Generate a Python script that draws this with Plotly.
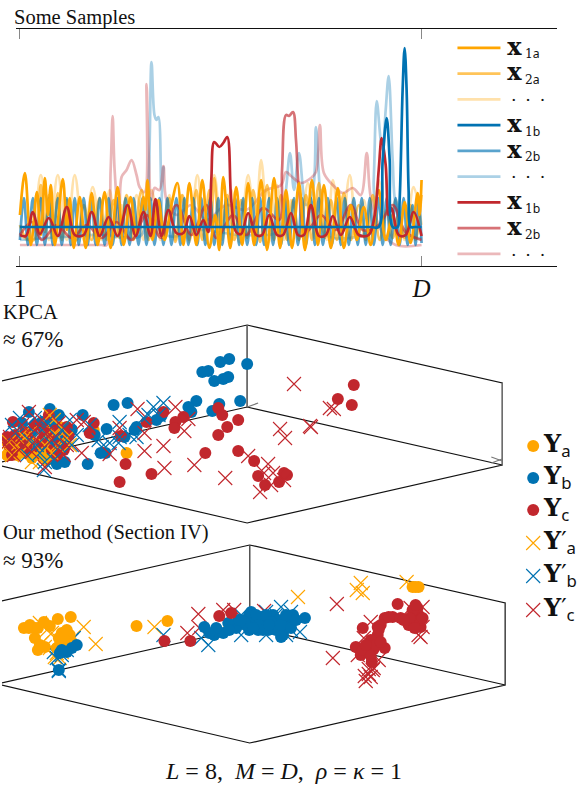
import plotly.graph_objects as go

ORANGE = "#FFA500"
BLUE = "#0072B2"
RED = "#C1272D"
SERIF = "Liberation Serif"

# ---- top panel: sample signals
a1_x = [18,23,29,35,39,43,46,49,53,61,65,68,72,78,84,90,96,103,109,116,122,129,135,142,144,146,151,157,163,170,176,182,188,195,201,208,214,218,222,229,235,241,247,253,260,266,273,279,285,291,298,304,311,317,323,330,337,343,350,356,363,370,378,385,392,398,404,410,417,419,421]
a1_y = [215,173,245,192,235,178,215,185,245,179,230,198,248,197,248,193,245,192,248,187,245,197,235,197,210,180,240,200,240,205,183,245,183,245,180,248,215,250,177,248,187,245,183,245,180,250,178,248,190,248,183,250,180,245,185,248,188,248,205,240,207,245,190,240,215,245,202,243,193,215,180]
a2_x = [18,24,32,39,43,47,51,56,60,65,70,75,82,90,98,105,112,118,125,132,140,147,155,161,168,174,181,188,195,201,208,210,213,219,226,233,240,246,252,259,266,273,280,286,292,298,305,311,318,324,330,336,343,350,358,365,372,379,386,392,398,404,410,415,421]
a2_y = [225,238,240,185,232,195,238,193,240,200,235,240,205,240,198,240,200,238,195,240,190,240,200,238,198,242,195,240,190,240,190,225,178,240,195,240,200,238,190,242,185,240,195,240,200,240,195,240,183,238,200,240,193,240,205,240,195,240,210,238,215,238,205,240,195]
a3_x = [18,28,39,47,56,65,73,82,91,100,108,114,120,127,135,142,150,159,168,174,180,188,196,204,213,221,230,238,247,254,260,268,276,283,290,298,307,314,320,326,332,340,349,356,363,370,378,386,395,404,413,421]
a3_y = [235,240,175,240,175,240,175,240,187,240,190,238,205,240,195,240,190,240,195,240,195,242,175,240,175,240,190,242,175,238,160,242,185,240,200,240,183,238,190,240,180,240,175,240,200,240,180,240,200,240,187,225]
b1_x = [18,100,200,300,370,378,382,386,389,392,397,399,402,404,406,408,410,414,421]
b1_y = [227,227,227,227,227,227,160,118,160,227,227,200,90,48,90,190,227,227,227]
b2_x = [18,22,26,31,35,39,43,47,51,56,60,65,69,73,77,82,86,90,94,98,103,107,111,116,120,124,128,132,137,141,145,149,153,158,162,166,170,175,179,183,187,192,196,200,204,209,213,217,221,225,229,234,238,242,246,251,255,259,263,268,272,276,280,284,288,293,297,301,305,310,314,318,322,327,331,336,340,344,348,353,357,361,365,369,373,378,382,386,390,395,399,403,407,412,415,418,421]
b2_y = [240,198,245,198,245,198,245,198,245,198,245,198,245,198,245,198,245,198,245,198,245,198,245,198,245,198,245,198,245,198,245,198,245,198,245,198,245,198,245,198,245,198,245,198,245,198,245,198,245,198,245,198,245,198,245,198,245,198,245,198,245,198,245,198,245,198,245,198,245,198,245,198,245,198,245,198,245,198,245,198,245,198,245,198,245,198,245,198,245,198,245,198,245,205,245,198,243]
b3_x = [18,60,100,130,140,146,150,153,155,157,160,162,165,200,240,280,285,289,293,298,305,312,315,319,325,370,373,376,380,382,385,388,392,395,405,421]
b3_y = [240,237,235,238,235,200,62,115,120,117,190,167,235,230,235,230,190,153,190,153,205,190,127,190,235,230,180,101,140,150,110,76,160,205,235,238]
c1_x = [18,24,31,38,47,56,65,73,82,90,98,107,116,126,134,142,149,154,160,167,175,182,188,195,202,207,210,213,218,222,226,230,235,240,247,255,261,268,276,282,290,297,303,310,318,325,332,340,349,358,368,374,378,381,385,388,391,398,405,413,421]
c1_y = [235,236,212,234,218,236,207,235,235,212,236,217,236,205,236,212,236,199,236,210,233,233,216,235,220,232,180,142,147,143,137,200,232,234,213,235,235,215,235,235,213,235,235,205,236,235,216,235,217,235,235,215,170,138,165,215,208,235,235,212,236]
c2_x = [18,30,40,55,70,85,100,115,130,145,160,175,190,205,215,232,245,262,278,281,285,288,292,295,298,305,320,335,350,362,378,392,405,421]
c2_y = [235,222,240,225,238,225,238,222,240,215,238,205,235,205,238,215,235,208,220,170,115,116,112,140,190,232,215,230,205,230,225,205,232,240]
c3_x = [18,60,100,105,109,111,113,118,120,125,130,135,138,143,145,147,150,153,158,162,165,175,190,205,225,245,265,280,285,290,300,310,315,319,323,332,342,352,360,366,370,382,395,421]
c3_y = [245,245,245,245,170,116,170,230,177,170,160,175,187,192,84,150,200,188,190,166,200,215,205,220,205,210,190,185,172,176,183,178,172,125,173,185,193,188,195,153,197,233,245,245]

def x_label(sub):
    return ("\u200a<span style='font-size:24px'><b>x</b></span>\u2009"
            f"<sub>{sub[0]}<span style='font-family:Noto Sans'>{sub[1]}</span></sub>")

DOTS = "\u00a0·\u2002·\u2002·"
samples = [
    (x_label("1a"), a1_x, a1_y, ORANGE, 1.0, 1),
    (x_label("2a"), a2_x, a2_y, ORANGE, 0.65, 2),
    (DOTS, a3_x, a3_y, ORANGE, 0.33, 3),
    (x_label("1b"), b1_x, b1_y, BLUE, 1.0, 4),
    (x_label("2b"), b2_x, b2_y, BLUE, 0.65, 5),
    (DOTS, b3_x, b3_y, BLUE, 0.33, 6),
    (x_label("1b"), c1_x, c1_y, RED, 1.0, 7),
    (x_label("2b"), c2_x, c2_y, RED, 0.65, 8),
    (DOTS, c3_x, c3_y, RED, 0.33, 9),
]
draw_order = [2, 5, 8, 1, 4, 7, 0, 6, 3]

# ---- KPCA panel
k_ya_x = [58,63,125,2,7,15,23,32,37,43,50,55,92,10,18,28,40,48,60,5,30,45]
k_ya_y = [427,433,453,440,452,455,453,448,453,448,443,453,430,445,448,450,455,450,440,455,458,460]
k_yb_x = [228,219,246,207,201,213,222,227,239,218,211,195,187,190,126,112,155,135,133,105,123,93,99,104,86,63,55,81,57,48,27,40,20,63,55,160,45,30,52,70]
k_yb_y = [359,362,364,371,372,381,379,377,401,404,411,401,407,412,403,405,420,427,430,429,437,435,453,453,464,462,464,415,415,409,412,422,423,440,442,416,425,432,425,430]
k_yc_x = [217,221,237,226,217,162,182,174,173,145,92,88,119,204,237,253,257,264,278,283,286,150,124,118,11,33,47,13,23,47,65,67,62,7,18,37,50,353,337,351,5,15,28,40,55,58,25,42,55,10]
k_yc_y = [408,415,420,427,435,412,417,422,428,422,423,433,436,453,451,461,476,485,482,473,475,474,464,482,422,425,415,435,432,435,427,435,450,445,440,447,450,385,399,405,437,445,440,440,430,445,448,430,455,455]
k_xa_x = [48,7,15,25,33,43,53,50,30,20,38,60,68,10,28,40,55,45,65,30,20,52]
k_xa_y = [415,442,445,447,455,445,433,453,440,452,462,428,445,455,433,452,445,435,438,462,435,420]
k_xb_x = [18,33,40,27,68,75,97,108,118,118,43,38,55,58,48,13,128,135,142,147,152,162,157,117,10,25,45,60,35,52,42,70,25,88,100]
k_xb_y = [418,418,430,440,420,435,440,443,422,437,462,453,437,447,442,433,435,437,418,415,407,403,415,443,425,425,422,430,445,460,470,445,455,425,447]
k_xc_x = [293,329,333,309,310,279,284,247,267,263,272,270,259,283,136,174,187,183,143,118,143,162,163,193,224,80,108,27,20,33,57,82,8,43,62,30,45,17,3,12,35,50,65,40,22,75]
k_xc_y = [384,408,409,426,427,429,438,456,464,473,473,485,492,480,409,407,419,431,433,428,451,446,468,465,478,453,454,412,425,430,423,422,437,467,455,452,432,450,445,455,440,440,445,420,445,420]

# ---- our method panel
m_ya_x = [69,56,48,22,27,33,33,60,57,68,70,60,36,43,135,166,412,418,415,228,28,36,42,62,65,55,38]
m_ya_y = [617,619,626,628,628,628,638,633,638,635,642,645,650,647,626,621,587,587,587,628,625,628,622,640,630,648,645]
m_yb_x = [57,75,70,65,58,60,203,213,222,235,248,253,248,257,263,272,273,282,283,292,288,237,227,260,267,277,304,288,288,280,245,250,255,258,265,270,275,280,285,290,295,243,262,252,268,215,208,228,240]
m_yb_y = [670,645,648,652,653,650,627,635,633,628,615,620,630,630,622,615,627,635,623,615,623,620,623,617,630,620,618,618,627,637,625,612,615,625,615,622,630,625,615,628,620,622,630,628,625,628,633,630,620]
m_yc_x = [218,230,189,163,397,384,392,400,362,377,377,375,384,355,360,365,373,371,417,418,412,408,420,417,413,412,415,420,409,414,403,388,380,378,370,368,375,380,362,370,422,365]
m_yc_y = [616,613,641,641,604,618,617,618,628,627,635,640,648,647,655,652,649,662,608,615,617,625,627,620,623,610,605,620,618,628,620,617,625,630,640,650,645,642,650,656,618,645]
m_xa_x = [297,360,356,362,406,82,94,38,153,43,53,58,48,63,50,45,55,60,40,230]
m_xa_y = [597,583,590,593,582,627,644,623,627,647,657,658,648,637,633,630,653,652,643,625]
m_xb_x = [72,162,207,200,57,57,60,67,299,285,240,250,265,275,290,290,240,265,280,60,65,70,55,52]
m_xb_y = [638,635,645,638,670,671,655,645,632,635,615,620,612,615,612,630,635,635,607,650,650,640,658,652]
m_xc_x = [197,186,198,263,222,233,336,332,370,363,357,378,373,368,365,370,420,418,422,410,422,372,368,364]
m_xc_y = [614,633,628,611,610,610,604,658,622,638,655,660,668,674,681,677,637,635,607,608,627,670,669,676]

# ---- projected boxes
box1_x = [-9,246,502,502,246,-9,246,502,None,246,246]
box1_y = [383,325,383,465,523,464,407,465,None,325,407]
box2_x = [-5,248.5,505,505,248.5,-5,248.5,505,None,248.5,248.5]
box2_y = [602,545,603,685,743,684,627,685,None,545,627]
box_grey_x = [502,502,None,246,246,None,502,491,None,502,491,None,246,257]
box_grey_y = [383,465,None,325,407,None,461,457,None,459,463,None,407,403]
box2_grey_x = [505,505,None,248.5,248.5]
box2_grey_y = [603,685,None,545,627]

# ---- key for the scatter panels
key_x = [533,533,533,533,533,533]
key_y = [446,478,510,543,576,610]
key_labels = ["a","b","c","a","b","c"]
key_primes = ["","","","′","′","′"]
key_colors = [ORANGE,BLUE,RED,ORANGE,BLUE,RED]
key_symbols = ["circle","circle","circle","x-thin","x-thin","x-thin"]

fig = go.Figure()

for i in draw_order:
    name, xs, ys, col, op, rank = samples[i]
    fig.add_trace(go.Scatter(x=xs, y=ys, mode="lines", name=name, legendrank=rank,
                             opacity=op, line=dict(color=col, width=2.7, shape="spline", smoothing=1),
                             xaxis="x", yaxis="y", hoverinfo="skip"))

def line(xs, ys, col, w):
    fig.add_trace(go.Scatter(x=xs, y=ys, mode="lines", line=dict(color=col, width=w),
                             xaxis="x2", yaxis="y2", showlegend=False, hoverinfo="skip"))

def dots(xs, ys, col):
    fig.add_trace(go.Scatter(x=xs, y=ys, mode="markers", marker=dict(color=col, size=12, line=dict(width=0)),
                             xaxis="x2", yaxis="y2", showlegend=False, hoverinfo="skip"))

def cross(xs, ys, col):
    fig.add_trace(go.Scatter(x=xs, y=ys, mode="markers",
                             marker=dict(symbol="x-thin", color=col, size=14, line=dict(color=col, width=1.1)),
                             xaxis="x2", yaxis="y2", showlegend=False, hoverinfo="skip"))

line(box1_x, box1_y, "#111111", 1.2)
line(box_grey_x, box_grey_y, "#777777", 1.2)
line(box2_x, box2_y, "#111111", 1.2)
line(box2_grey_x, box2_grey_y, "#555555", 1.2)

dots(k_ya_x, k_ya_y, ORANGE); dots(k_yb_x, k_yb_y, BLUE); dots(k_yc_x, k_yc_y, RED)
cross(k_xa_x, k_xa_y, ORANGE); cross(k_xb_x, k_xb_y, BLUE); cross(k_xc_x, k_xc_y, RED)

cross(m_xa_x, m_xa_y, ORANGE); cross(m_xb_x, m_xb_y, BLUE); cross(m_xc_x, m_xc_y, RED)
dots(m_ya_x, m_ya_y, ORANGE); dots(m_yb_x, m_yb_y, BLUE); dots(m_yc_x, m_yc_y, RED)

for kx, ky, c, s in zip(key_x, key_y, key_colors, key_symbols):
    (dots if s == "circle" else cross)([kx], [ky], c)

annotations = []
def label(x, y, text, size=20.5, family=SERIF, anchor="left"):
    annotations.append(dict(x=x, y=y, xref="x2", yref="y2", text=text, showarrow=False,
                            xanchor=anchor, yanchor="middle", xshift=-4 if anchor == "left" else 0,
                            font=dict(family=family, size=size, color="#111111")))

label(14, 17, "Some Samples")
label(3, 312, "KPCA")
label(3, 339, "≈ 67%", size=23)
label(3, 532, "Our method (Section IV)")
label(3, 560, "≈ 93%", size=23)
label(282, 771, "<i>L</i> = 8,\u2002<i>M</i> = <i>D</i>,\u2002<i>ρ</i> = <i>κ</i> = 1", size=24, anchor="center")
for kx, ky, t, p in zip(key_x, key_y, key_labels, key_primes):
    label(kx + 12, ky - 1,
          f"<b>Y</b>{p}<sub><span style='font-family:Noto Sans'>{t}</span></sub>",
          size=24, family="DejaVu Serif")

fig.update_layout(
    width=585, height=787, margin=dict(l=0, r=0, t=0, b=0),
    paper_bgcolor="white", plot_bgcolor="rgba(0,0,0,0)",
    annotations=annotations,
    legend=dict(x=452/585, y=(787-30)/787, xanchor="left", yanchor="top",
                itemwidth=43, traceorder="normal", tracegroupgap=0,
                bgcolor="rgba(0,0,0,0)", borderwidth=0,
                font=dict(family="DejaVu Serif", size=17.5, color="#111111")),
    xaxis=dict(domain=[14/585, 557/585], range=[14, 557], tickmode="array",
               tickvals=[18, 421], ticktext=["1", "<i>D</i>"], ticks="inside", ticklen=10,
               tickcolor="#888888", tickwidth=1, mirror="ticks", showline=True, linecolor="#111111",
               linewidth=1.2, showgrid=False, zeroline=False,
               tickfont=dict(family=SERIF, size=25, color="#111111")),
    yaxis=dict(domain=[(787-266)/787, (787-29)/787], range=[266, 29], visible=False, anchor="x"),
    xaxis2=dict(domain=[0, 1], range=[0, 585], visible=False, anchor="y2"),
    yaxis2=dict(domain=[0, 1], range=[787, 0], visible=False, anchor="x2"),
)

fig.write_html("out.html", config={"displayModeBar": False},
               post_script="document.body.style.margin='0';")
